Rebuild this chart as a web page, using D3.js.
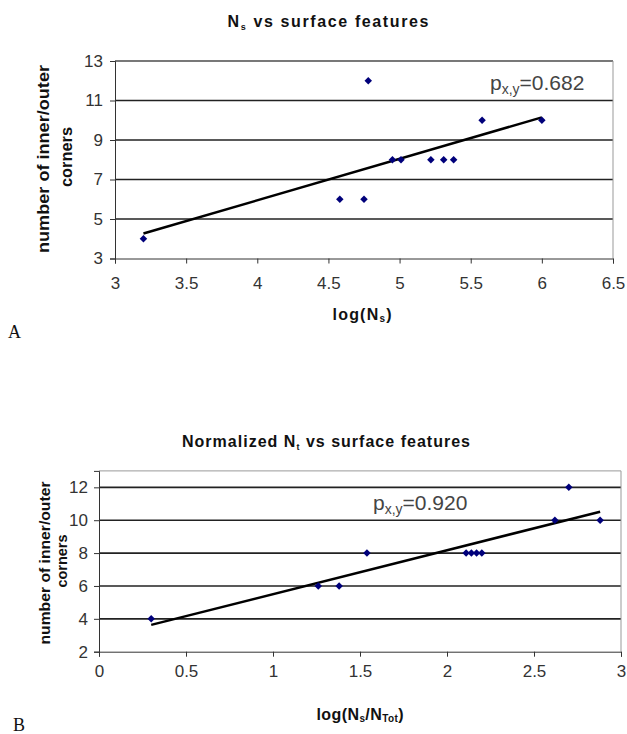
<!DOCTYPE html>
<html>
<head>
<meta charset="utf-8">
<title>Ns vs surface features</title>
<script src="https://cdn.jsdelivr.net/npm/d3@7"></script>
<style>
  body { margin: 0; background: #fff; }
  svg { display: block; font-family: "Liberation Sans", Arial, sans-serif; }
  .tick text { fill: #333; }
</style>
</head>
<body>
<svg id="viz" width="627" height="734"></svg>
<script>
// chart A: log(Ns) vs number of corners
var xA = [3.2, 4.58, 4.75, 4.78, 4.95, 5.01, 5.22, 5.31, 5.38, 5.58, 6.0];
var yA = [4, 6, 6, 12, 8, 8, 8, 8, 8, 10, 10];
var xTicksA = [3, 3.5, 4, 4.5, 5, 5.5, 6, 6.5];
var yTicksA = [3, 5, 7, 9, 11, 13];

// chart B: log(Ns/NTot) vs number of corners
var xB = [0.30, 1.26, 1.38, 1.54, 2.11, 2.14, 2.17, 2.20, 2.62, 2.70, 2.88];
var yB = [4, 6, 6, 8, 8, 8, 8, 8, 10, 12, 10];
var xTicksB = [0, 0.5, 1, 1.5, 2, 2.5, 3];
var yTicksB = [2, 4, 6, 8, 10, 12];

var corrA = "0.682", corrB = "0.920";

var svg = d3.select("#viz");
svg.append("rect").attr("width", 627).attr("height", 734).attr("fill", "#fff");

function fit(xs, ys) {
  var mx = d3.mean(xs), my = d3.mean(ys), sxy = 0, sxx = 0;
  xs.forEach(function (x, i) { sxy += (x - mx) * (ys[i] - my); sxx += (x - mx) * (x - mx); });
  var b = sxy / sxx;
  return function (x) { return my + b * (x - mx); };
}

function drawChart(c) {
  var g = svg.append("g");
  var x = d3.scaleLinear().domain(c.xDomain).range(c.xRange);
  var y = d3.scaleLinear().domain(c.yDomain).range(c.yRange);
  var fmt = d3.format("~g");

  // gridlines
  g.selectAll(".grid").data(c.yTicks.slice(1)).enter().append("line")
    .attr("x1", c.xRange[0]).attr("x2", c.xRange[1])
    .attr("y1", function (d) { return y(d); }).attr("y2", function (d) { return y(d); })
    .attr("stroke", "#222").attr("stroke-width", 1.6);

  // top and right border
  g.append("path")
    .attr("d", "M" + c.xRange[0] + "," + y(c.yDomain[1]) + "H" + c.xRange[1] + "V" + c.yRange[0])
    .attr("fill", "none").attr("stroke", "#999");

  var ax = g.append("g").attr("transform", "translate(0," + c.yRange[0] + ")")
    .call(d3.axisBottom(x).tickValues(c.xTicks).tickFormat(fmt).tickSize(5).tickPadding(c.xPad));
  var ay = g.append("g").attr("transform", "translate(" + c.xRange[0] + ",0)")
    .call(d3.axisLeft(y).tickValues(c.yTicks).tickFormat(fmt).tickSize(5).tickPadding(c.yPad));
  [ax, ay].forEach(function (a) {
    a.attr("font-family", null).attr("font-size", null);
    a.selectAll("path, line").attr("stroke", "#333");
    a.selectAll("text").style("font-size", "17px");
  });

  // trend line
  var f = fit(c.xs, c.ys), x0 = d3.min(c.xs), x1 = d3.max(c.xs);
  g.append("line")
    .attr("x1", x(x0)).attr("y1", y(f(x0)))
    .attr("x2", x(x1)).attr("y2", y(f(x1)))
    .attr("stroke", "#000").attr("stroke-width", 2.5);

  // points
  g.selectAll(".pt").data(c.xs).enter().append("path")
    .attr("d", d3.symbol(d3.symbolSquare, 28))
    .attr("transform", function (d, i) { return "translate(" + x(d) + "," + y(c.ys[i]) + ") rotate(45)"; })
    .attr("fill", "#00007a");

  // title
  var t = g.append("text").attr("x", c.title.x).attr("y", c.title.y)
    .attr("text-anchor", "middle").attr("font-weight", "bold").attr("font-size", c.title.size)
    .attr("textLength", c.title.len).attr("fill", "#111");
  c.title.parts.forEach(function (p) {
    t.append("tspan").text(p[0]).attr("font-size", p[1] ? "9px" : null)
      .attr("baseline-shift", p[1] ? "-3" : null);
  });

  // y axis title
  c.yTitle.lines.forEach(function (l) {
    g.append("text").attr("transform", "translate(" + l[1] + "," + l[2] + ") rotate(-90)")
      .attr("text-anchor", "middle").attr("font-weight", "bold").attr("font-size", c.yTitle.size)
      .attr("textLength", l[3]).attr("lengthAdjust", "spacingAndGlyphs")
      .attr("fill", "#111").text(l[0]);
  });

  // x axis title
  var xt = g.append("text").attr("x", c.xTitle.x).attr("y", c.xTitle.y)
    .attr("text-anchor", "middle").attr("font-weight", "bold").attr("font-size", "16px")
    .attr("textLength", c.xTitle.len).attr("fill", "#111");
  c.xTitle.parts.forEach(function (p) {
    xt.append("tspan").text(p[0]).attr("font-size", p[1] ? "10px" : null)
      .attr("baseline-shift", p[1] ? "-2" : null);
  });

  // correlation label
  var pl = g.append("text").attr("x", c.p.x).attr("y", c.p.y).attr("fill", "#444").attr("font-size", "21px");
  pl.append("tspan").text("p");
  pl.append("tspan").text("x,y").attr("font-size", "14px").attr("baseline-shift", "-4");
  pl.append("tspan").text("=" + c.p.val);

  // panel letter
  svg.append("text").attr("x", c.letter.x).attr("y", c.letter.y)
    .attr("font-family", "'Liberation Serif', serif").attr("font-size", "18px")
    .attr("fill", "#111").text(c.letter.t);
}

drawChart({
  xs: xA, ys: yA, xTicks: xTicksA, yTicks: yTicksA,
  xDomain: [3, 6.5], xRange: [115, 613],
  yDomain: [3, 13], yRange: [258.5, 61],
  xPad: 13, yPad: 7,
  title: { x: 328, y: 27, size: "16px", len: 201, parts: [["N"], ["s", 1], [" vs surface features"]] },
  yTitle: { size: "16px", lines: [["number of inner/outer", 49, 159, 188], ["corners", 72, 157, 60]] },
  xTitle: { x: 362, y: 320, len: 59, parts: [["log(N"], ["s", 1], [")"]] },
  p: { x: 490, y: 90, val: corrA },
  letter: { x: 8, y: 338, t: "A" }
});

drawChart({
  xs: xB, ys: yB, xTicks: xTicksB, yTicks: yTicksB,
  xDomain: [0, 3], xRange: [99, 621],
  yDomain: [2, 13], yRange: [651.7, 470.9],
  xPad: 8, yPad: 6,
  title: { x: 326, y: 447, size: "16px", len: 288, parts: [["Normalized N"], ["t", 1], [" vs surface features"]] },
  yTitle: { size: "14px", lines: [["number of inner/outer", 49.5, 563, 163], ["corners", 67, 561, 53]] },
  xTitle: { x: 360, y: 720, len: 87, parts: [["log(N"], ["s", 1], ["/N"], ["Tot", 1], [")"]] },
  p: { x: 373, y: 510, val: corrB },
  letter: { x: 13, y: 731, t: "B" }
});
</script>
</body>
</html>
